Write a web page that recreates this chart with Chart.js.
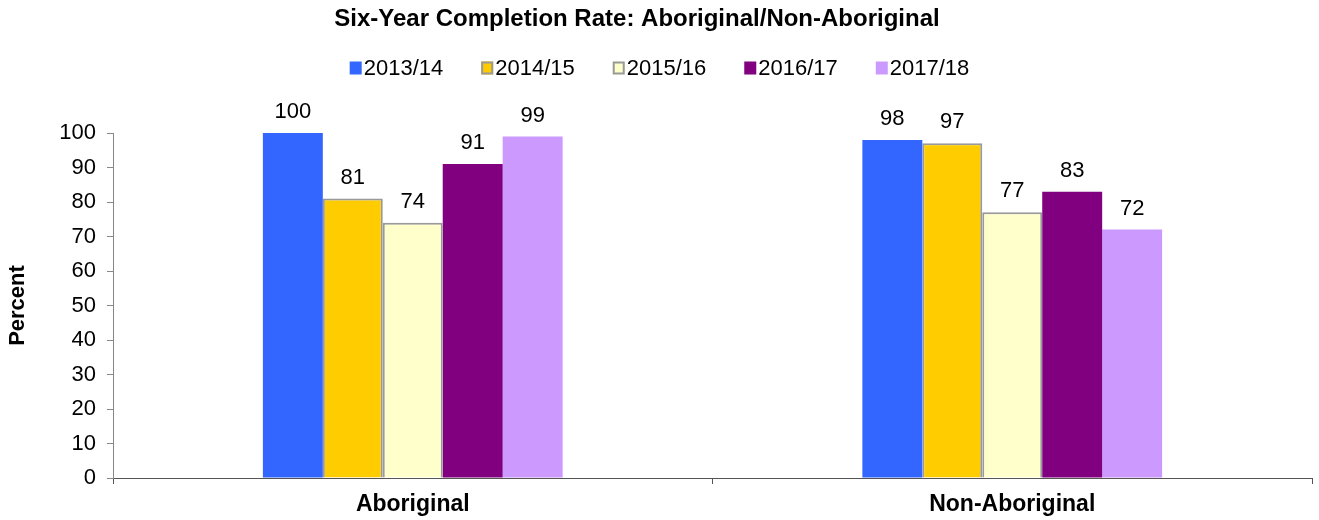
<!DOCTYPE html>
<html>
<head>
<meta charset="utf-8">
<title>Six-Year Completion Rate</title>
<script src="https://cdn.jsdelivr.net/npm/chart.js@4"></script>
<style>
    body { margin: 0; background: #fff; }
    #rateChart { display: block; }
</style>
</head>
<body>
<canvas id="rateChart" width="1319" height="520"></canvas>
<script>
// groups along the x axis
const groups = ["Aboriginal", "Non-Aboriginal"];
// school years, one dataset each
const years = ["2013/14", "2014/15", "2015/16", "2016/17", "2017/18"];
// completion rate in percent, per year: [Aboriginal, Non-Aboriginal]
const rate1314 = [100, 98];
const rate1415 = [81, 97];
const rate1516 = [74, 77];
const rate1617 = [91, 83];
const rate1718 = [99, 72];
// y axis ticks
const yTicks = [0, 10, 20, 30, 40, 50, 60, 70, 80, 90, 100];

const TITLE = "Six-Year Completion Rate: Aboriginal/Non-Aboriginal";
const FONT = "'Liberation Sans', Arial, sans-serif";

const fills = ["#3366FF", "#FFCC00", "#FFFFCC", "#800080", "#CC99FF"];
const edges = [null, "#999999", "#999999", null, null];
const series = [rate1314, rate1415, rate1516, rate1617, rate1718];

const datasets = years.map((y, i) => ({
    label: y,
    data: series[i],
    backgroundColor: fills[i],
    borderColor: edges[i] || fills[i],
    borderWidth: edges[i] ? 2 : 0,
    categoryPercentage: 0.5,
    barPercentage: 1.0,
}));

// value written above each bar
const barValues = {
    id: "barValues",
    afterDatasetsDraw(chart) {
        const ctx = chart.ctx;
        ctx.save();
        ctx.font = "22px " + FONT;
        ctx.fillStyle = "#000";
        ctx.textAlign = "center";
        ctx.textBaseline = "middle";
        chart.data.datasets.forEach((ds, i) => {
            chart.getDatasetMeta(i).data.forEach((bar, j) => {
                ctx.fillText(String(ds.data[j]), bar.x, bar.y - 21);
            });
        });
        ctx.restore();
    },
};

// title line and the legend row under it (small box, label right after it)
const header = {
    id: "header",
    afterDraw(chart) {
        const ctx = chart.ctx;
        ctx.save();
        ctx.fillStyle = "#000";
        ctx.textBaseline = "middle";
        ctx.textAlign = "center";
        ctx.font = "bold 24px " + FONT;
        ctx.fillText(TITLE, 637, 19);

        const boxW = 12, boxH = 13, gap = 2, spacing = 38, cy = 68;
        ctx.textAlign = "left";
        ctx.font = "22px " + FONT;
        const items = chart.data.datasets.map((ds) => ({
            ds: ds,
            w: boxW + gap + ctx.measureText(ds.label).width,
        }));
        const total = items.reduce((s, it) => s + it.w, 0) + spacing * (items.length - 1);
        let x = (chart.width - total) / 2;
        items.forEach((it) => {
            const ds = it.ds;
            ctx.fillStyle = ds.backgroundColor;
            ctx.fillRect(x, cy - boxH / 2, boxW, boxH);
            if (ds.borderWidth > 0) {
                ctx.strokeStyle = ds.borderColor;
                ctx.lineWidth = 2;
                ctx.strokeRect(x + 1, cy - boxH / 2 + 1, boxW - 2, boxH - 2);
            }
            ctx.fillStyle = "#000";
            ctx.fillText(ds.label, x + boxW + gap, cy + 1);
            x += it.w + spacing;
        });
        ctx.restore();
    },
};

const chart = new Chart(document.getElementById("rateChart"), {
    type: "bar",
    data: {
        labels: groups,
        datasets: datasets,
    },
    plugins: [barValues, header],
    options: {
        responsive: false,
        animation: false,
        layout: {
            padding: { left: 0, right: 7, top: 133, bottom: 0 },
        },
        plugins: {
            legend: { display: false },
            tooltip: { enabled: false },
            title: { display: false },
        },
        scales: {
            x: {
                grid: {
                    offset: true,
                    drawOnChartArea: false,
                    tickLength: 6,
                    color: "#555",
                },
                border: { color: "#555", width: 1 },
                ticks: {
                    color: "#000",
                    padding: 7,
                    font: { family: FONT, size: 23, weight: "bold" },
                },
                afterFit: (s) => { s.height = 42; },
            },
            y: {
                min: 0,
                max: 100,
                afterBuildTicks: (s) => { s.ticks = yTicks.map((v) => ({ value: v })); },
                grid: {
                    drawOnChartArea: false,
                    tickLength: 6,
                    color: "#888",
                },
                border: { color: "#888", width: 1 },
                ticks: {
                    color: "#000",
                    padding: 11,
                    font: { family: FONT, size: 22 },
                },
                title: {
                    display: true,
                    text: "Percent",
                    color: "#000",
                    font: { family: FONT, size: 22, weight: "bold" },
                    padding: { top: 5, bottom: 0 },
                },
                afterFit: (s) => { s.width = 113; },
            },
        },
    },
});
</script>
</body>
</html>
